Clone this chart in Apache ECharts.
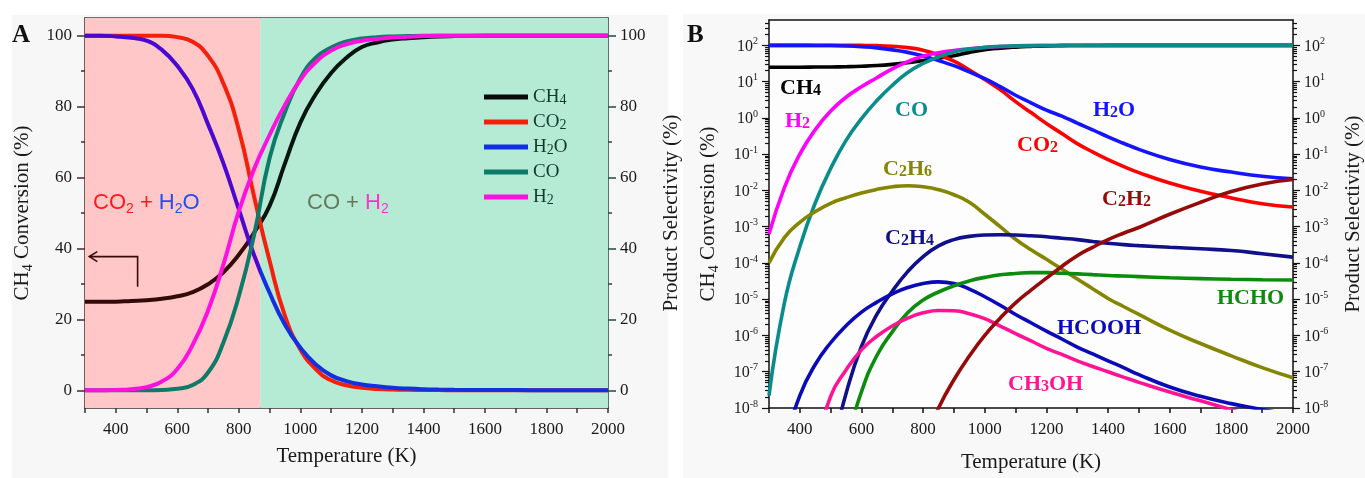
<!DOCTYPE html>
<html><head><meta charset="utf-8">
<script src="https://cdn.jsdelivr.net/npm/echarts@6/dist/echarts.min.js"></script>
<style>html,body{margin:0;padding:0;background:#fff}#c{width:1365px;height:478px}</style>
</head><body><div id="c"></div>
<script>
// ---------- DATA ----------
const temps = [300,350,400,450,500,550,600,650,700,750,800,850,900,950,1000,1050,1100,1150,1200,1250,1300,1350,1400,1450,1500,1600,1700,1800,1900,2000];
const ch4  = [25,25,25,25.2,25.4,25.8,26.5,27.7,29.9,33.3,38.2,44.5,52,64,75.5,83.5,89.5,93.8,96.8,98.1,98.9,99.3,99.6,99.8,99.9,100,100,100,100,100];
const co2  = [100,100,100,100,100,100,99.6,98.3,94.3,86.5,73.5,54.5,36.5,21,11.5,6,2.8,1.4,0.7,0.37,0.195,0.115,0.071,0.046,0.031,0.016,0.0095,0.0062,0.0043,0.0035];
const h2o  = [100,100,99.8,99.4,98.6,96,91.5,85,75,64,51,38,27.5,18.5,12,7.3,4.2,2.6,1.64,1.12,0.72,0.47,0.30,0.2,0.135,0.071,0.044,0.032,0.0245,0.021];
const coA  = [0,0,0,0,0,0.1,0.4,1.5,5,13.5,26.5,44,65.5,78.5,88,93.8,96.7,98.4,99.2,99.6,99.8,99.9,100,100,100,100,100,100,100,100];
const h2A  = [0,0,0.1,0.3,0.9,2.5,6,12.8,22.5,35.5,50.5,62.5,72,80.5,87.5,92.5,95.8,97.6,98.6,99.1,99.5,99.7,99.9,100,100,100,100,100,100,100];
const coB  = [2.2e-8,7.9e-6,2.8e-4,4.5e-3,0.04,0.24,0.95,3.0,7.9,17.8,31.6,47.9,66,78.5,88,93.8,96.7,98.4,99.2,99.6,99.8,99.9,100,100,100,100,100,100,100,100];
const h2B  = [6.3e-4,0.012,0.1,0.47,1.55,3.7,7.2,12.8,22.5,35.5,50.5,62.5,72,80.5,87.5,92.5,95.8,97.6,98.6,99.1,99.5,99.7,99.9,100,100,100,100,100,100,100];
const c2h6 = [1.0e-4,5.0e-4,1.32e-3,2.6e-3,4.4e-3,6.3e-3,8.5e-3,0.0107,0.0126,0.0135,0.0126,0.0105,7.6e-3,4.7e-3,2.2e-3,1.0e-3,4.5e-4,2.3e-4,1.26e-4,6.8e-5,3.6e-5,1.95e-5,1.05e-5,6.3e-6,3.8e-6,1.4e-6,6.0e-7,2.75e-7,1.3e-7,6.8e-8];
const c2h4 = [null,null,null,null,5e-10,2.5e-8,5.0e-7,3.8e-6,1.66e-5,5.75e-5,1.5e-4,2.95e-4,4.4e-4,5.4e-4,5.9e-4,6.0e-4,5.9e-4,5.6e-4,5.25e-4,4.8e-4,4.4e-4,3.9e-4,3.5e-4,3.2e-4,3.0e-4,2.7e-4,2.45e-4,2.2e-4,1.8e-4,1.45e-4];
const hcooh= [null,1e-9,2.2e-8,1.58e-7,6.3e-7,1.86e-6,4.4e-6,8.3e-6,1.41e-5,2.1e-5,2.7e-5,3.0e-5,2.7e-5,1.9e-5,1.17e-5,6.8e-6,3.8e-6,2.24e-6,1.32e-6,8.0e-7,4.8e-7,3.1e-7,2.0e-7,1.3e-7,8.3e-8,3.8e-8,2.1e-8,1.32e-8,9.1e-9,6.3e-9];
const hcho = [null,null,null,null,null,1e-9,2.8e-8,2.8e-7,1.26e-6,4.2e-6,9.5e-6,1.58e-5,2.35e-5,3.2e-5,4.0e-5,4.7e-5,5.1e-5,5.4e-5,5.4e-5,5.2e-5,5.0e-5,4.75e-5,4.5e-5,4.35e-5,4.2e-5,3.9e-5,3.7e-5,3.55e-5,3.45e-5,3.4e-5];
const ch3oh= [null,null,null,6.3e-10,2.1e-8,1.12e-7,4.0e-7,9.5e-7,1.82e-6,3.0e-6,4.2e-6,4.9e-6,4.8e-6,4.0e-6,2.9e-6,1.82e-6,1.12e-6,7.1e-7,4.4e-7,3.0e-7,2.0e-7,1.4e-7,1.0e-7,7.1e-8,5.1e-8,2.75e-8,1.58e-8,8.9e-9,5.0e-9,3.2e-9];
const c2h2 = [null,null,null,null,null,null,null,null,null,null,1e-9,1e-8,6.0e-8,2.7e-7,1.0e-6,3.0e-6,7.9e-6,1.78e-5,3.8e-5,8.0e-5,1.58e-4,2.7e-4,4.4e-4,6.6e-4,9.5e-4,2.2e-3,4.7e-3,9.3e-3,0.0151,0.02];
const regionSplit = 870; // K, boundary between the two shaded regions

// tick labels
const xLabels = [400,600,800,1000,1200,1400,1600,1800,2000];
const xTicks  = [300,400,500,600,700,800,900,1000,1100,1200,1300,1400,1500,1600,1700,1800,1900,2000];
const yLabelsA = [0,20,40,60,80,100];
const yMinorA  = [10,30,50,70,90];
const logLabels = [1e-8,1e-7,1e-6,1e-5,1e-4,1e-3,1e-2,1e-1,1,10,100];
const logMinor = [];
for (let e = -8; e <= 2; e++) for (let m = 2; m <= 9; m++) { const v = m * Math.pow(10, e); if (v < 500) logMinor.push(v); }

// ---------- CHART ----------
const serif = '"Liberation Serif", "Times New Roman", serif';
const sans = '"Liberation Sans", Arial, sans-serif';
const chart = echarts.init(document.getElementById('c'));

function pairs(ys){ const out=[]; temps.forEach((t,i)=>{ if(ys[i]!==null) out.push([t, ys[i]]); }); return out; }
const subFmt = n => n.replace(/(\d)/g, '{d|$1}');
const nameRich = {
  t: {fontFamily: serif, fontSize: 21, color: '#1a1a1a', lineHeight: 26},
  d: {fontFamily: serif, fontSize: 14, color: '#1a1a1a', lineHeight: 14, verticalAlign: 'bottom'}
};
const ch4Name = '{t|CH}{d|4}{t| Conversion (%)}';

function linAxisY(pos, color, labels, withName, name, gap, margin){
  return {gridIndex: 0, type: 'value', min: -5, max: 105, position: pos,
    axisLine: {show: withName !== null, onZero: false, lineStyle: {color, width: 1.5}},
    axisTick: {show: true, length: labels === yLabelsA ? 8 : 4, customValues: labels, lineStyle: {color, width: 1.5}},
    axisLabel: {show: labels === yLabelsA, customValues: labels, fontFamily: serif, fontSize: 17, color: '#1a1a1a', margin,
      formatter: v => String(v)},
    splitLine: {show: false},
    name: withName ? name : '', nameLocation: 'middle', nameGap: gap,
    nameTextStyle: {fontFamily: serif, fontSize: 21, color: '#1a1a1a', rich: nameRich}
  };
}
function logAxisY(pos, major, withName, name, gap){
  return {gridIndex: 1, type: 'log', logBase: 10, min: 1e-8, max: 500, position: pos,
    axisLine: {show: major, onZero: false, lineStyle: {color: '#111', width: 1.5}},
    axisTick: {show: true, length: major ? 7 : 4, customValues: major ? logLabels : logMinor, lineStyle: {color: '#111', width: 1.2}},
    axisLabel: {show: major, customValues: logLabels, margin: 11,
      formatter: v => '{b|10}{s|' + Math.round(Math.log10(v)) + '}',
      rich: {b: {fontFamily: serif, fontSize: 16, lineHeight: 18, color: '#1a1a1a', verticalAlign: 'bottom'},
             s: {fontFamily: serif, fontSize: 10, lineHeight: 10, color: '#1a1a1a', verticalAlign: 'top'}}},
    splitLine: {show: false}, minorTick: {show: false},
    name: withName ? name : '', nameLocation: 'middle', nameGap: gap,
    nameTextStyle: {fontFamily: serif, fontSize: 21, color: '#1a1a1a', rich: nameRich}
  };
}
function xAxisBottom(grid, color, gap){
  return {gridIndex: grid, type: 'value', min: 300, max: 2000, position: 'bottom',
    axisLine: {onZero: false, lineStyle: {color, width: 1.5}},
    axisTick: {customValues: xTicks, length: 5, lineStyle: {color, width: 1.5}},
    axisLabel: {customValues: xLabels, fontFamily: serif, fontSize: 17, color: '#1a1a1a', margin: 13,
      formatter: v => String(v)},
    splitLine: {show: false},
    name: 'Temperature (K)', nameLocation: 'middle', nameGap: gap,
    nameTextStyle: {fontFamily: serif, fontSize: 21, color: '#1a1a1a'}
  };
}
function xAxisTop(grid, color){
  return {gridIndex: grid, type: 'value', min: 300, max: 2000, position: 'top',
    axisLine: {onZero: false, lineStyle: {color, width: 1.5}}, axisTick: {show: false}, axisLabel: {show: false}, splitLine: {show: false}};
}

const lineA = (name, data, color, noStroke) => ({name, type: 'line', xAxisIndex: 0, yAxisIndex: 0, data: pairs(data),
  showSymbol: false, smooth: 0.5, z: 3, color, lineStyle: noStroke ? {width: 4} : {width: 4, color}, itemStyle: {color}});
const lineB = (name, data, color) => ({name, type: 'line', xAxisIndex: 2, yAxisIndex: 4, data: pairs(data),
  showSymbol: false, smooth: 0.5, z: 3, color, lineStyle: {width: 3.6, color}, itemStyle: {color}});

const series = [
  {name: 'bg', type: 'line', xAxisIndex: 0, yAxisIndex: 0, data: [[300, -100], [2000, -100]], showSymbol: false, z: 1, silent: true,
   lineStyle: {width: 0},
   markArea: {silent: true, data: [
     [{xAxis: 300, itemStyle: {color: '#FFC7C7'}}, {xAxis: regionSplit}],
     [{xAxis: regionSplit, itemStyle: {color: '#B5EAD5'}}, {xAxis: 2000}]
   ]}},
  lineA('CH4', ch4, '#0a0a0a', true),
  lineA('CO2', co2, '#F5200C'),
  lineA('H2O', h2o, '#1230E0', true),
  lineA('CO', coA, '#0E7A68'),
  lineA('H2', h2A, '#FF10E0'),
  lineB('bCH4', ch4, '#000000'),
  lineB('bCO2', co2, '#FF0000'),
  lineB('bH2O', h2o, '#1414FF'),
  lineB('bH2', h2B, '#FF00FF'),
  lineB('bCO', coB, '#0A8C8C'),
  lineB('bC2H6', c2h6, '#858500'),
  lineB('bC2H4', c2h4, '#10108A'),
  lineB('bHCOOH', hcooh, '#0A0AB8'),
  lineB('bHCHO', hcho, '#0C8C0C'),
  lineB('bCH3OH', ch3oh, '#FF1493'),
  lineB('bC2H2', c2h2, '#960A0A')
];

const option = {
  animation: false,
  backgroundColor: '#ffffff',
  grid: [
    {left: 85, top: 18, right: 757, bottom: 70},
    {left: 769, top: 20, right: 72, bottom: 68}
  ],
  xAxis: [xAxisBottom(0, '#3d3030', 38), xAxisTop(0, '#444'), xAxisBottom(1, '#111', 44), xAxisTop(1, '#111')],
  yAxis: [
    linAxisY('left', '#4a2a2a', yLabelsA, true, ch4Name, 50, 13),
    linAxisY('left', '#4a2a2a', yMinorA, null, '', 0, 0),
    linAxisY('right', '#1f4d3a', yLabelsA, true, 'Product Selectivity (%)', 53, 12),
    linAxisY('right', '#1f4d3a', yMinorA, null, '', 0, 0),
    logAxisY('left', true, true, ch4Name, 48),
    logAxisY('left', false, false, '', 0),
    logAxisY('right', true, true, 'Product Selectivity (%)', 50),
    logAxisY('right', false, false, '', 0)
  ],
  visualMap: [
    {type: 'piecewise', show: false, dimension: 0, seriesIndex: 1,
     pieces: [{gte: 0, lt: regionSplit, color: '#330a0a'}, {gte: regionSplit, lte: 5000, color: '#06160e'}]},
    {type: 'piecewise', show: false, dimension: 0, seriesIndex: 3,
     pieces: [{gte: 0, lt: regionSplit, color: '#4A08D0'}, {gte: regionSplit, lte: 5000, color: '#1230E0'}]}
  ],
  legend: {
    data: ['CH4', 'CO2', 'H2O', 'CO', 'H2'], orient: 'vertical', left: 479, top: 82,
    itemWidth: 44, itemHeight: 5, itemGap: 5, icon: 'rect', selectedMode: false,
    textStyle: {fontFamily: serif, fontSize: 19, color: '#123a2c', lineHeight: 20,
      rich: {d: {fontFamily: serif, fontSize: 14, color: '#123a2c', lineHeight: 16, verticalAlign: 'bottom'}}},
    formatter: subFmt
  },
  series
};
try { chart.setOption(option); } catch (e) { console.error(e); }

// ---------- annotations ----------
const lab = (x, y, text, color) => ({type: 'text', x, y, z: 50, silent: true,
  style: {text, fill: color, align: 'left', verticalAlign: 'middle',
    font: 'bold 22px ' + serif,
    rich: {t: {fontFamily: serif, fontWeight: 'bold', fontSize: 22, lineHeight: 22, fill: color},
           d: {fontFamily: serif, fontWeight: 'bold', fontSize: 16, lineHeight: 18, verticalAlign: 'bottom', fill: color}}}});

let p1 = [138, 287], p2 = [138, 257], p3 = [90, 257];
try {
  p1 = chart.convertToPixel({xAxisIndex: 0, yAxisIndex: 0}, [471, 29.2]);
  p2 = chart.convertToPixel({xAxisIndex: 0, yAxisIndex: 0}, [471, 37.7]);
  p3 = chart.convertToPixel({xAxisIndex: 0, yAxisIndex: 0}, [314, 37.7]);
} catch (e) { console.error(e); }

const sansRich = (c1, c2) => ({
  r: {fontFamily: sans, fontSize: 22, lineHeight: 26, fill: c1},
  rs: {fontFamily: sans, fontSize: 14, lineHeight: 14, verticalAlign: 'bottom', fill: c1},
  b: {fontFamily: sans, fontSize: 22, lineHeight: 26, fill: c2},
  bs: {fontFamily: sans, fontSize: 14, lineHeight: 14, verticalAlign: 'bottom', fill: c2}
});

chart.setOption({graphic: [
  {type: 'rect', z: -100, silent: true, shape: {x: 12, y: 15, width: 656, height: 463}, style: {fill: '#F7F7F7'}},
  {type: 'rect', z: -100, silent: true, shape: {x: 683, y: 14, width: 682, height: 464}, style: {fill: '#F8F8F8'}},
  {type: 'rect', z: -99, silent: true, shape: {x: 769, y: 20, width: 524, height: 390}, style: {fill: '#FDFDFD'}},
  {type: 'text', x: 12, y: 36, z: 50, style: {text: 'A', font: 'bold 25px ' + serif, fill: '#111', verticalAlign: 'middle'}},
  {type: 'text', x: 687, y: 36, z: 50, style: {text: 'B', font: 'bold 25px ' + serif, fill: '#111', verticalAlign: 'middle'}},
  {type: 'text', x: 93, y: 203, z: 50, style: {text: '{r|CO}{rs|2}{r| + }{b|H}{bs|2}{b|O}', verticalAlign: 'middle',
    rich: sansRich('#FF1A1A', '#2050F0')}},
  {type: 'text', x: 307, y: 203, z: 50, style: {text: '{r|CO + }{b|H}{bs|2}', verticalAlign: 'middle',
    rich: sansRich('#66785A', '#FF33CC')}},
  {type: 'polyline', z: 50, silent: true, shape: {points: [p1, p2, p3]}, style: {stroke: '#3a0a0a', lineWidth: 1.6, fill: null}},
  {type: 'polyline', z: 50, silent: true, shape: {points: [[p3[0] + 8, p3[1] - 5], p3, [p3[0] + 8, p3[1] + 5]]}, style: {stroke: '#3a0a0a', lineWidth: 1.6, fill: null}},
  lab(780, 88, '{t|CH}{d|4}', '#000000'),
  lab(785, 121, '{t|H}{d|2}', '#FF00FF'),
  lab(895, 110, '{t|CO}', '#0A8C8C'),
  lab(883, 169, '{t|C}{d|2}{t|H}{d|6}', '#858500'),
  lab(885, 238, '{t|C}{d|2}{t|H}{d|4}', '#10108A'),
  lab(1057, 328, '{t|HCOOH}', '#0A0AB8'),
  lab(1008, 384, '{t|CH}{d|3}{t|OH}', '#FF1493'),
  lab(1217, 298, '{t|HCHO}', '#0C8C0C'),
  lab(1102, 199, '{t|C}{d|2}{t|H}{d|2}', '#960A0A'),
  lab(1017, 145, '{t|CO}{d|2}', '#FF0000'),
  lab(1093, 110, '{t|H}{d|2}{t|O}', '#1414FF')
]});
</script>
</body></html>
